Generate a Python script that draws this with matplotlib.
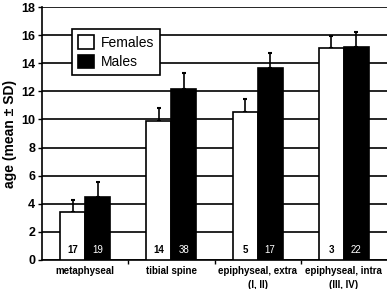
import matplotlib
matplotlib.use("Agg")
import matplotlib.pyplot as plt
import numpy as np

categories = ["metaphyseal", "tibial spine", "epiphyseal, extra\n(I, II)", "epiphyseal, intra\n(III, IV)"]
female_mean = [3.4, 9.9, 10.55, 15.05]
female_sd = [0.9, 0.9, 0.9, 0.9]
male_mean = [4.5, 12.2, 13.65, 15.15]
male_sd = [1.05, 1.1, 1.05, 1.05]
female_n = [17, 14, 5, 3]
male_n = [19, 38, 17, 22]
yticks = [0, 2, 4, 6, 8, 10, 12, 14, 16, 18]

plt.rcParams['font.family'] = ['Liberation Sans', 'DejaVu Sans']

fig = plt.figure(figsize=(3.87, 2.89), dpi=100)
ax = fig.add_axes([42/387, 29/289, 345/387, 253/289])

x = np.arange(len(categories))
w = 0.29
ax.bar(x - w/2, female_mean, w, color='white', edgecolor='black', linewidth=1.2,
       label='Females', zorder=3)
ax.bar(x + w/2, male_mean, w, color='black', edgecolor='black', linewidth=1.2,
       label='Males', zorder=3)
ax.errorbar(x - w/2, female_mean, yerr=[np.zeros(4), female_sd], fmt='none',
            ecolor='black', elinewidth=1.2, capsize=1.6, capthick=1.5, zorder=2)
ax.errorbar(x + w/2, male_mean, yerr=[np.zeros(4), male_sd], fmt='none',
            ecolor='black', elinewidth=1.2, capsize=1.6, capthick=1.5, zorder=2)

for i in range(len(categories)):
    ax.text(x[i] - w/2, 0.7, str(female_n[i]), ha='center', va='center',
            fontsize=7, fontweight='bold', color='black', zorder=5)
    ax.text(x[i] + w/2, 0.7, str(male_n[i]), ha='center', va='center',
            fontsize=7, color='white', zorder=5)

ax.set_xlim(-0.5, 3.5)
ax.set_ylim(0, 18)
ax.set_yticks(yticks)
ax.set_yticklabels([str(v) for v in yticks], fontsize=9, fontweight='bold')
ax.set_xticks(x)
ax.set_xticklabels(categories, fontsize=7, fontweight='bold', linespacing=1.5)
ax.set_xticks([0.5, 1.5, 2.5], minor=True)
ax.tick_params(axis='x', which='major', length=0, pad=4)
ax.tick_params(axis='x', which='minor', length=3, width=1, direction='out')
ax.tick_params(axis='y', length=3, width=1, pad=2)

ax.yaxis.grid(True, color='black', linewidth=1.2, zorder=0)
ax.set_axisbelow(True)
for s in ['top', 'right']:
    ax.spines[s].set_visible(False)
for s in ['left', 'bottom']:
    ax.spines[s].set_linewidth(1.2)

ax.set_ylabel('age (mean ± SD)', fontsize=10, fontweight='bold', labelpad=3)

leg = ax.legend(loc='upper left', bbox_to_anchor=(0.087, 0.913), borderaxespad=0,
                fontsize=10, frameon=True, fancybox=False, edgecolor='black',
                framealpha=1, handlelength=1.1, handleheight=1.1,
                handletextpad=0.5, borderpad=0.45, labelspacing=0.35)
leg.get_frame().set_linewidth(1.2)
leg.set_zorder(10)

fig.savefig('out.png', dpi=100)
